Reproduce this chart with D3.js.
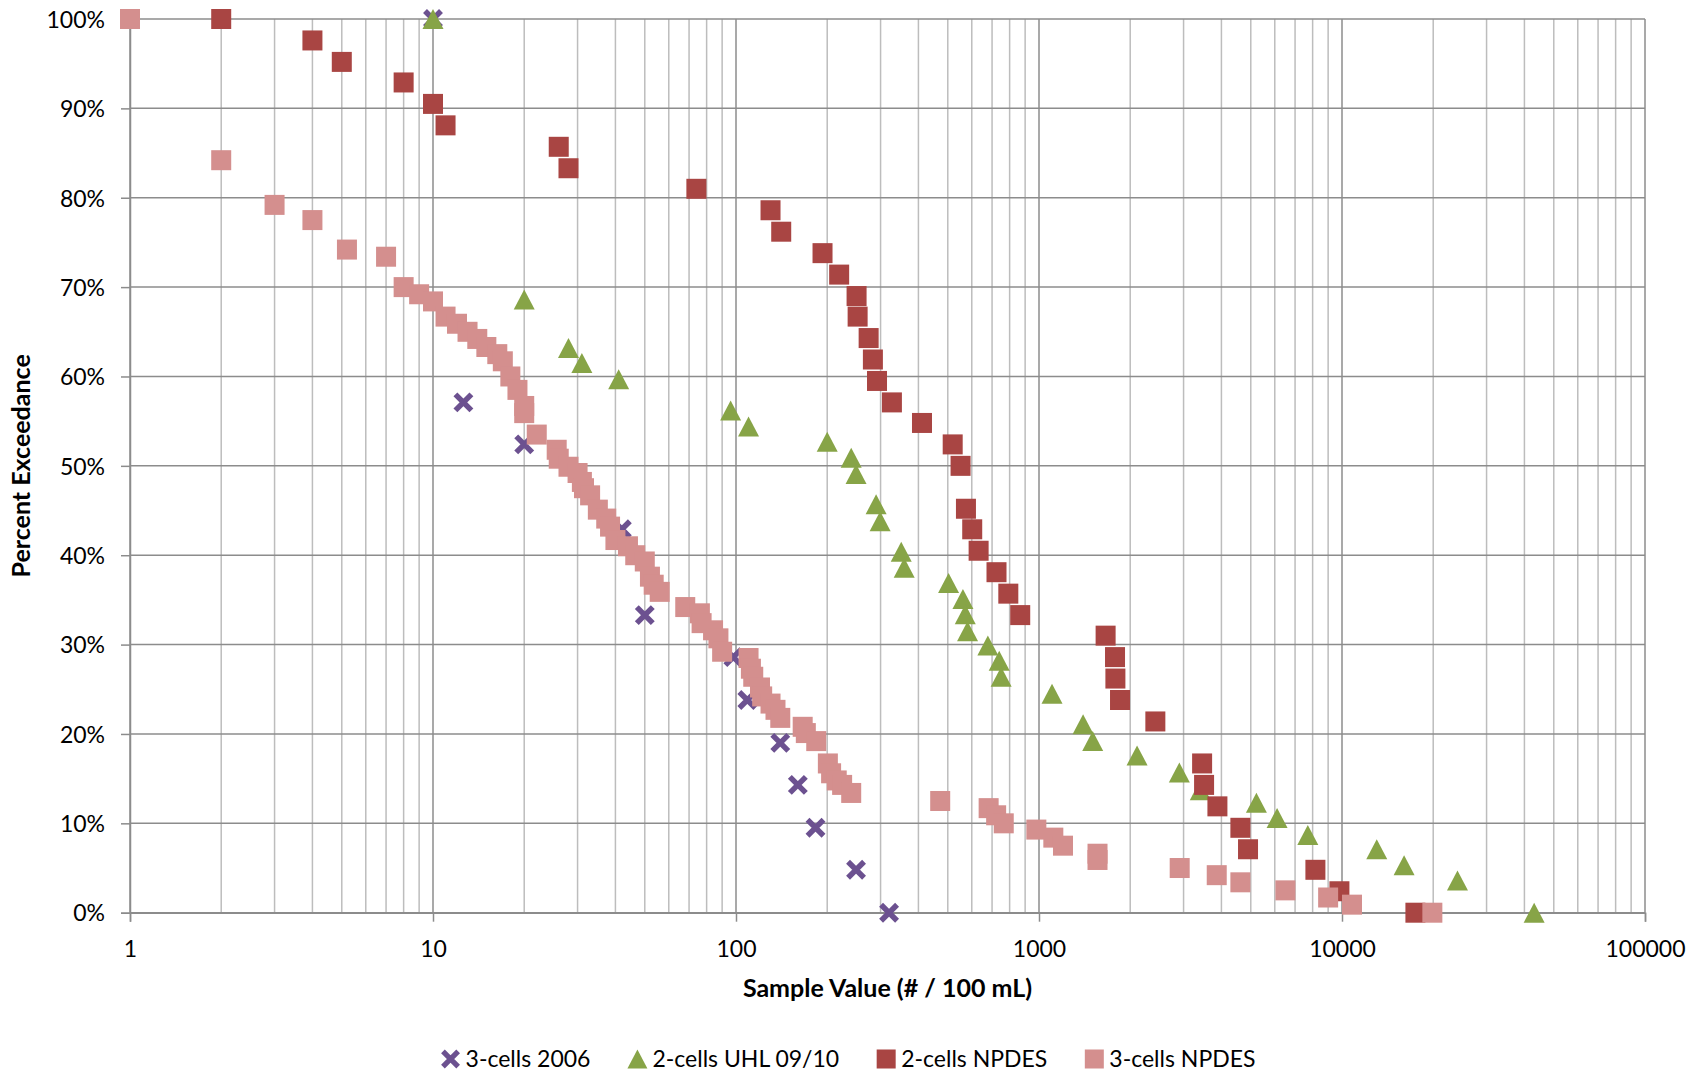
<!DOCTYPE html>
<html>
<head>
<meta charset="utf-8">
<script src="https://cdn.jsdelivr.net/npm/d3@7"></script>
<style>
  body { margin: 0; background: #fff; }
  text { font-family: Lato, "Open Sans", sans-serif; fill: #000; }
</style>
</head>
<body>
<script>
var width = 1706, height = 1074;

// exceedance (fraction) vs. sample value (# / 100 mL)
var cells3_2006_val = [10, 12.6, 20, 42, 50, 98, 109, 140, 160, 183, 249, 320];
var cells3_2006_pct = [1.0, 0.571, 0.524, 0.429, 0.333, 0.286, 0.238, 0.190, 0.143, 0.095, 0.048, 0.0];

var uhl_val = [10, 20, 28, 31, 41, 96, 110, 200, 240, 249, 290, 299, 351, 359, 503, 561, 571, 581,
               678, 739, 750, 1104, 1398, 1504, 2107, 2905, 3406, 5218, 6106, 7712, 13023, 16030, 24050, 43070];
var uhl_pct = [1.0, 0.686, 0.632, 0.615, 0.597, 0.562, 0.544, 0.527, 0.509, 0.491, 0.457, 0.438, 0.404, 0.386,
               0.369, 0.351, 0.334, 0.315, 0.299, 0.282, 0.264, 0.245, 0.211, 0.192, 0.176, 0.157, 0.137, 0.123,
               0.106, 0.087, 0.071, 0.053, 0.036, 0.0];

var npdes2_val = [2, 4, 5, 8, 10, 11, 26, 28, 74, 130, 141, 193, 219, 250, 252, 274, 283, 292, 327, 411,
                  519, 551, 574, 602, 632, 724, 792, 867, 1659, 1782, 1787, 1851, 2421, 3454, 3506, 3880,
                  4620, 4896, 8170, 9805, 17470];
var npdes2_pct = [1.0, 0.976, 0.952, 0.929, 0.905, 0.881, 0.857, 0.833, 0.810, 0.786, 0.762, 0.738, 0.714,
                  0.690, 0.667, 0.643, 0.619, 0.595, 0.571, 0.548, 0.524, 0.500, 0.452, 0.429, 0.405, 0.381,
                  0.357, 0.333, 0.310, 0.286, 0.262, 0.238, 0.214, 0.167, 0.143, 0.119, 0.095, 0.071, 0.048,
                  0.024, 0.0];

var npdes3_val = [1, 2, 3, 4, 5.2, 7, 8, 9, 10, 11, 12, 13, 14, 15, 16.3, 17, 18, 19, 20, 20, 22, 25.6, 26,
                  28, 30, 31, 31.5, 33, 35, 37.3, 38.4, 40, 44, 46.5, 50, 52, 53.5, 56, 68, 76, 77, 84, 87.5,
                  90, 110, 112, 114, 120, 122, 130, 135, 140, 166, 170, 184, 201, 206, 215, 224, 240, 472, 682,
                  722, 765, 980, 1115, 1200, 1560, 1560, 2913, 3860, 4620, 6505, 9000, 10790, 19870];
var npdes3_pct = [1.0, 0.842, 0.792, 0.775, 0.742, 0.734, 0.700, 0.692, 0.684, 0.667, 0.659, 0.650, 0.642,
                  0.633, 0.625, 0.617, 0.600, 0.585, 0.567, 0.559, 0.535, 0.518, 0.508, 0.499, 0.492, 0.482,
                  0.475, 0.467, 0.451, 0.441, 0.432, 0.417, 0.410, 0.400, 0.393, 0.376, 0.367, 0.359, 0.342,
                  0.335, 0.324, 0.316, 0.307, 0.292, 0.285, 0.273, 0.264, 0.252, 0.242, 0.234, 0.227, 0.218,
                  0.208, 0.201, 0.192, 0.167, 0.156, 0.148, 0.143, 0.134, 0.125, 0.117, 0.109, 0.100, 0.093,
                  0.084, 0.075, 0.066, 0.059, 0.050, 0.042, 0.034, 0.025, 0.017, 0.009, 0.0];

var seriesNames = ['3-cells 2006', '2-cells UHL 09/10', '2-cells NPDES', '3-cells NPDES'];
var seriesColors = ['#6c5190', '#87a447', '#a94543', '#d48f8e'];
var seriesShapes = ['x', 'triangle', 'square', 'square'];
var seriesVals = [cells3_2006_val, uhl_val, npdes2_val, npdes3_val];
var seriesPcts = [cells3_2006_pct, uhl_pct, npdes2_pct, npdes3_pct];

var xTicks = [1, 10, 100, 1000, 10000, 100000];
var yTicks = d3.range(0, 11).map(d => d / 10);

var svg = d3.select('body').append('svg').attr('width', width).attr('height', height);

var x = d3.scaleLog().domain([1, 100000]).range([130, 1645]);
var y = d3.scaleLinear().domain([0, 1]).range([912.7, 19]);

// minor vertical gridlines
var minorX = [];
xTicks.slice(0, -1).forEach(function (d) {
    for (var k = 2; k <= 9; k++) minorX.push(d * k);
});

var grid = svg.append('g').attr('class', 'grid');
grid.selectAll('line.minor').data(minorX).enter().append('line')
    .attr('class', 'minor')
    .attr('x1', d => x(d)).attr('x2', d => x(d))
    .attr('y1', y(1)).attr('y2', y(0))
    .attr('stroke', '#bdbdbd').attr('stroke-width', 1.5);
grid.selectAll('line.majorx').data(xTicks).enter().append('line')
    .attr('class', 'majorx')
    .attr('x1', d => x(d)).attr('x2', d => x(d))
    .attr('y1', y(1)).attr('y2', y(0))
    .attr('stroke', '#8c8c8c').attr('stroke-width', 1.5);
grid.selectAll('line.majory').data(yTicks).enter().append('line')
    .attr('class', 'majory')
    .attr('x1', x(1)).attr('x2', x(100000))
    .attr('y1', d => y(d)).attr('y2', d => y(d))
    .attr('stroke', '#8c8c8c').attr('stroke-width', 1.5);

// axes
var xAxis = svg.append('g')
    .attr('transform', 'translate(0,' + y(0) + ')')
    .call(d3.axisBottom(x).tickValues(xTicks).tickFormat(d3.format('d')).tickSize(9).tickPadding(19));
var yAxis = svg.append('g')
    .attr('transform', 'translate(' + x(1) + ',0)')
    .call(d3.axisLeft(y).tickValues(yTicks).tickFormat(d3.format('.0%')).tickSize(9).tickPadding(16));

[xAxis, yAxis].forEach(function (a) {
    a.select('.domain').attr('stroke', '#8c8c8c').attr('stroke-width', 1.5);
    a.selectAll('.tick line').attr('stroke', '#8c8c8c').attr('stroke-width', 1.5);
    a.selectAll('.tick text').attr('font-size', 23).attr('font-family', 'Lato, sans-serif').attr('fill', '#000');
});
yAxis.selectAll('.tick text').attr('dy', '0.36em');

// axis titles
svg.append('text')
    .attr('x', (x(1) + x(100000)) / 2).attr('y', 997)
    .attr('text-anchor', 'middle')
    .attr('font-size', 25).attr('font-weight', 'bold')
    .text('Sample Value (# / 100 mL)');
svg.append('text')
    .attr('transform', 'translate(30,' + (y(0) + y(1)) / 2 + ') rotate(-90)')
    .attr('text-anchor', 'middle')
    .attr('font-size', 25).attr('font-weight', 'bold')
    .text('Percent Exceedance');

// marker drawing
function drawMarker(sel, shape, color) {
    if (shape === 'square') {
        sel.append('rect')
            .attr('x', -10).attr('y', -10).attr('width', 20).attr('height', 20)
            .attr('fill', color);
    } else if (shape === 'triangle') {
        sel.append('path')
            .attr('d', 'M0,-10L10.5,10L-10.5,10Z')
            .attr('fill', color);
    } else {
        sel.append('path')
            .attr('d', 'M-8,-8L8,8M8,-8L-8,8')
            .attr('stroke', color).attr('stroke-width', 5.5).attr('fill', 'none');
    }
}

seriesNames.forEach(function (name, i) {
    var pts = seriesVals[i].map((v, j) => ({ v: v, p: seriesPcts[i][j] }));
    var g = svg.append('g').attr('class', 'series');
    g.selectAll('g').data(pts).enter().append('g')
        .attr('transform', d => 'translate(' + x(d.v) + ',' + y(d.p) + ')')
        .each(function () { drawMarker(d3.select(this), seriesShapes[i], seriesColors[i]); });
});

// legend
var legend = svg.append('g').attr('class', 'legend');
var items = legend.selectAll('g').data(seriesNames).enter().append('g');
items.append('text')
    .attr('x', 15).attr('y', 0).attr('dy', '0.35em')
    .attr('font-size', 23)
    .text(d => d);
var offs = [], cur = 0, lastW = 0;
items.each(function (d, i) {
    var w = d3.select(this).select('text').node().getComputedTextLength();
    offs.push(cur);
    lastW = 15 + w;
    cur += 15 + w + 47;
    d3.select(this).append('g').attr('transform', 'scale(0.95)')
        .call(function (s) { drawMarker(s, seriesShapes[i], seriesColors[i]); });
});
var total = offs[offs.length - 1] + lastW + 10;
var startX = 848 - total / 2 + 10;
items.attr('transform', (d, i) => 'translate(' + (startX + offs[i]) + ',1059)');
</script>
</body>
</html>
